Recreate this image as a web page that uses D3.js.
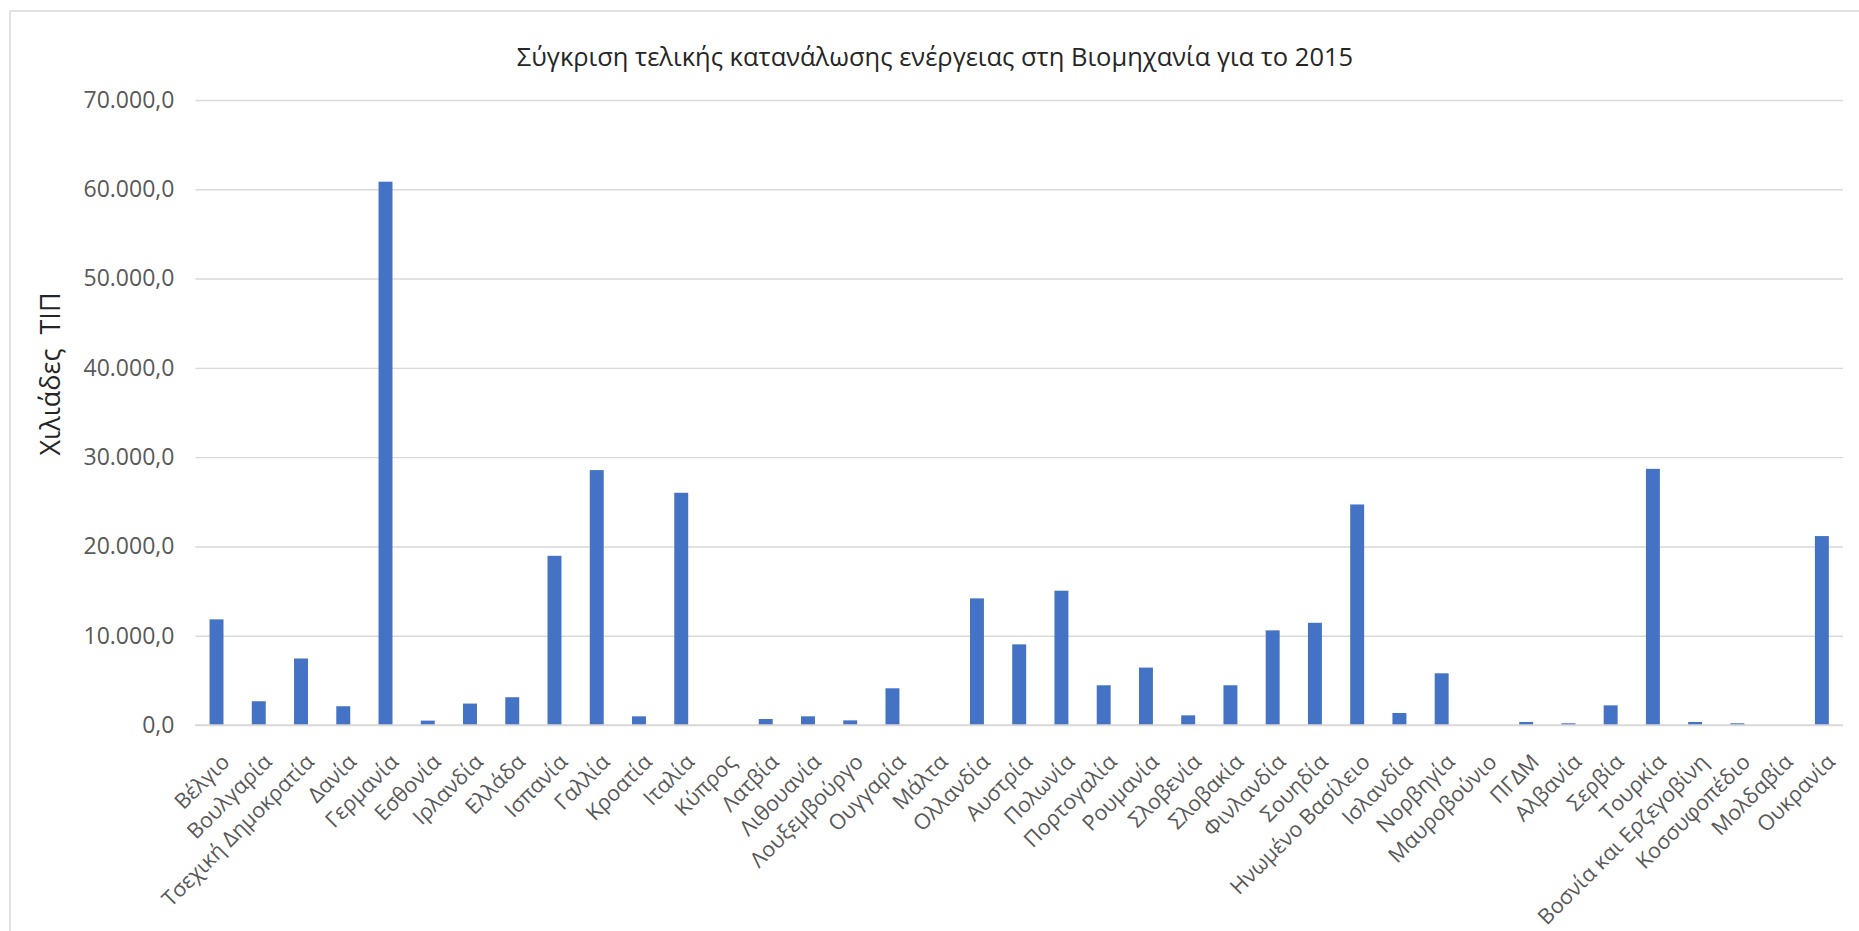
<!DOCTYPE html>
<html>
<head>
<meta charset="utf-8">
<script src="https://cdn.jsdelivr.net/npm/d3@7"></script>
<style>
  body { margin: 0; background: #fff; }
  text { font-family: "Open Sans", "Noto Sans", sans-serif; }
</style>
</head>
<body>
<svg id="chart" width="1859" height="931"></svg>
<script>
// data (thousand toe, 2015)
const countries = ["Βέλγιο", "Βουλγαρία", "Τσεχική Δημοκρατία", "Δανία", "Γερμανία", "Εσθονία", "Ιρλανδία",
  "Ελλάδα", "Ισπανία", "Γαλλία", "Κροατία", "Ιταλία", "Κύπρος", "Λατβία", "Λιθουανία", "Λουξεμβούργο",
  "Ουγγαρία", "Μάλτα", "Ολλανδία", "Αυστρία", "Πολωνία", "Πορτογαλία", "Ρουμανία", "Σλοβενία", "Σλοβακία",
  "Φινλανδία", "Σουηδία", "Ηνωμένο Βασίλειο", "Ισλανδία", "Νορβηγία", "Μαυροβούνιο", "ΠΓΔΜ", "Αλβανία",
  "Σερβία", "Τουρκία", "Βοσνία και Ερζεγοβίνη", "Κοσσυφοπέδιο", "Μολδαβία", "Ουκρανία"];
const consumption = [11830, 2660, 7450, 2100, 60850, 490, 2400,
  3110, 18950, 28550, 970, 26010, 0, 670, 970, 520,
  4110, 0, 14180, 9030, 15040, 4450, 6430, 1080, 4450,
  10600, 11450, 24700, 1345, 5790, 0, 340, 190,
  2200, 28690, 340, 190, 0, 21160];
const yTicks = [0, 10000, 20000, 30000, 40000, 50000, 60000, 70000];

const title = "Σύγκριση τελικής κατανάλωσης ενέργειας στη Βιομηχανία για το 2015";
const yTitle = "Χιλιάδες  ΤΙΠ";

const svg = d3.select("#chart");
const plot = { left: 195.4, right: 1843, top: 100, bottom: 725 };

// chart frame
svg.append("rect")
  .attr("x", 10).attr("y", 11)
  .attr("width", 1860).attr("height", 930)
  .attr("fill", "none")
  .attr("stroke", "#d9d9d9")
  .attr("stroke-width", 1.5);

const x = d3.scaleBand().domain(countries).range([plot.left, plot.right]).padding(0);
const y = d3.scaleLinear().domain([0, 70000]).range([plot.bottom, plot.top]);

// greek number format: 70.000,0
const fmt = d3.formatLocale({ decimal: ",", thousands: ".", grouping: [3], currency: ["", "€"] }).format(",.1f");

const yAxis = d3.axisLeft(y).tickValues(yTicks).tickSize(-(plot.right - plot.left)).tickFormat(fmt).tickPadding(21);
const gy = svg.append("g").attr("transform", `translate(${plot.left},0)`).call(yAxis);
gy.select(".domain").remove();
gy.selectAll(".tick line").attr("stroke", "#d9d9d9").attr("stroke-width", 1.4);
gy.selectAll(".tick text")
  .attr("fill", "#595959")
  .style("font-size", "23px");

// bars
const barW = x.bandwidth() * 0.33;
svg.append("g").selectAll("rect")
  .data(countries)
  .join("rect")
  .attr("x", d => x(d) + x.bandwidth() / 2 - barW / 2)
  .attr("y", (d, i) => y(consumption[i]))
  .attr("width", barW)
  .attr("height", (d, i) => y(0) - y(consumption[i]))
  .attr("fill", "#4472c4");

// baseline
svg.append("line")
  .attr("x1", plot.left).attr("x2", plot.right)
  .attr("y1", y(0)).attr("y2", y(0))
  .attr("stroke", "#d9d9d9").attr("stroke-width", 1.6);

// category labels, rotated
svg.append("g").selectAll("text")
  .data(countries)
  .join("text")
  .attr("transform", d => `translate(${x(d) + x.bandwidth() / 2 + 9},758) rotate(-45)`)
  .attr("text-anchor", "end")
  .attr("dy", "0.35em")
  .attr("fill", "#595959")
  .style("font-size", "21.5px")
  .text(d => d);

// title
svg.append("text")
  .attr("x", 935).attr("y", 66)
  .attr("text-anchor", "middle")
  .attr("fill", "#262626")
  .style("font-size", "25.5px")
  .text(title);

// y axis title
svg.append("text")
  .attr("transform", "translate(60,374) rotate(-90)")
  .attr("text-anchor", "middle")
  .attr("fill", "#262626")
  .style("font-size", "27px")
  .style("white-space", "pre")
  .text(yTitle);
</script>
</body>
</html>
